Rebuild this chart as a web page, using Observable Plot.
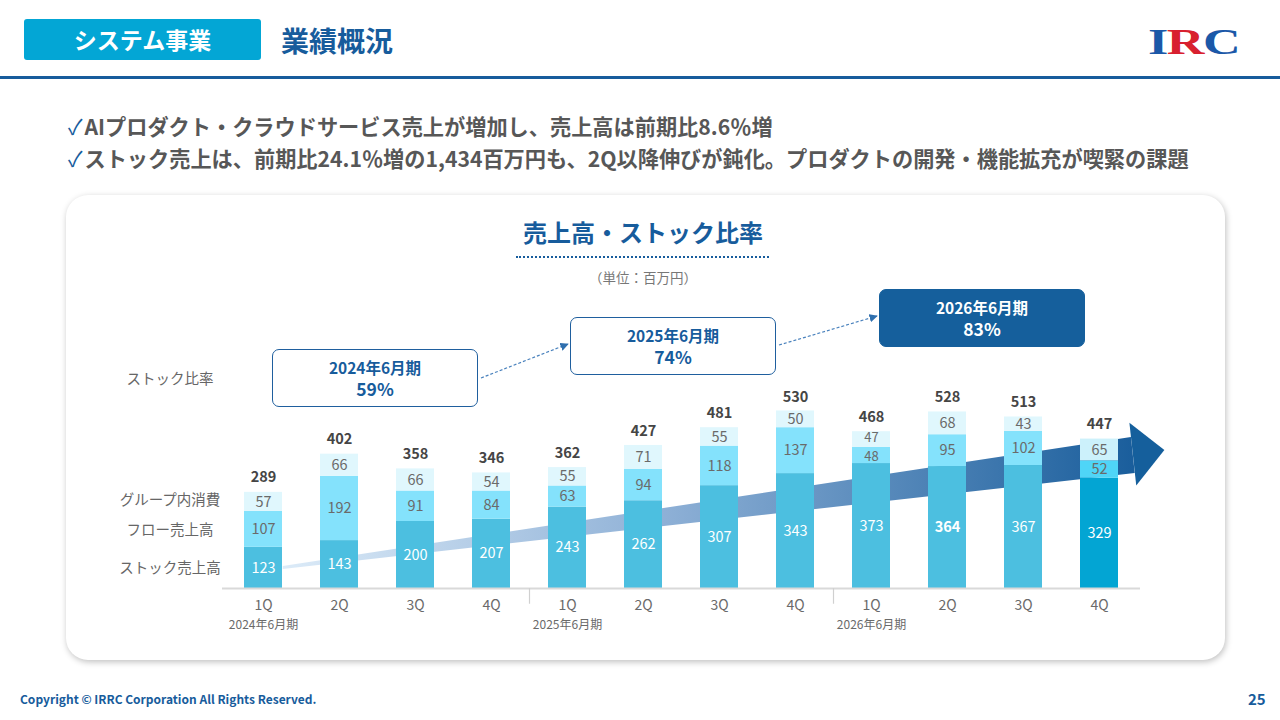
<!DOCTYPE html>
<html>
<head>
<meta charset="utf-8">
<script src="https://cdn.jsdelivr.net/npm/d3@7"></script>
<script src="https://cdn.jsdelivr.net/npm/@observablehq/plot@0.6"></script>
<style>
  body { margin: 0; width: 1280px; height: 720px; position: relative; background: #fff; overflow: hidden;
    font-family: "Noto Sans CJK JP", "Noto Sans", sans-serif; }
  .abs { position: absolute; }
  .tag { left: 24px; top: 19px; width: 237px; height: 41px; background: #03a6d5; border-radius: 3px;
    color: #fff; font-weight: bold; font-size: 23px; line-height: 41px; text-align: center; }
  .head { left: 281px; top: 20px; font-size: 28px; font-weight: bold; color: #175c9c; line-height: 40px; }
  .hline { left: 0; top: 76px; width: 1280px; height: 3px; background: #175c9c; }
  .logo { left: 1148px; top: 22px; font-family: "Liberation Serif", serif; font-weight: bold; font-size: 36px;
    letter-spacing: -1px; line-height: 40px; color: #1b58a8; transform: scaleX(1.45); transform-origin: left; }
  .bul { left: 68px; font-size: 21.2px; font-weight: bold; color: #575757; line-height: 28px; }
  .bul b { color: #175c9c; font-weight: normal; margin-right: 2px; }
  .card { left: 66px; top: 195px; width: 1159px; height: 465px; border-radius: 22px; background: #fff;
    box-shadow: 1px 2px 6px rgba(0,0,0,0.25); }
  .ctitle { left: 443px; width: 400px; top: 214px; text-align: center; font-size: 24px; font-weight: bold; color: #175c9c; }
  .dots { left: 516px; top: 256px; width: 253px; border-top: 2px dotted #175c9c; }
  .unit { left: 543px; width: 200px; top: 267px; text-align: center; font-size: 13.5px; color: #777; }
  .lab { width: 130px; left: 105px; text-align: center; font-size: 14.5px; color: #666; }
  .box { width: 206px; height: 58px; border: 1.5px solid #1f5f9e; border-radius: 7px; background: #fff;
    color: #175c9c; text-align: center; font-weight: bold; box-sizing: border-box; padding-top: 7px; }
  .box .p { font-size: 15.5px; line-height: 21px; }
  .box .v { font-size: 17.5px; line-height: 22px; }
  .box.dark { background: #155f9c; color: #fff; border-color: #155f9c; }
  .foot { left: 20px; top: 690px; font-size: 12px; font-weight: bold; color: #175c9c; }
  .pg { left: 1248px; top: 688px; font-size: 15px; font-weight: bold; color: #175c9c; }
  #chart { position: absolute; left: 0; top: 0; pointer-events: none; }
  #links { position: absolute; left: 0; top: 0; }
</style>
</head>
<body>
<div class="abs tag">システム事業</div>
<div class="abs head">業績概況</div>
<div class="abs hline"></div>
<div class="abs logo"><span>I</span><span style="color:#d8202f">R</span><span>C</span></div>
<div class="abs bul" style="top:112px"><b>✓</b>AIプロダクト・クラウドサービス売上が増加し、売上高は前期比8.6％増</div>
<div class="abs bul" style="top:144px"><b>✓</b>ストック売上は、前期比24.1％増の1,434百万円も、2Q以降伸びが鈍化。プロダクトの開発・機能拡充が喫緊の課題</div>

<div class="abs card"></div>
<div class="abs ctitle">売上高・ストック比率</div>
<div class="abs dots"></div>
<div class="abs unit">（単位：百万円）</div>

<div class="abs lab" style="top:367px">ストック比率</div>
<div class="abs lab" style="top:488px">グループ内消費</div>
<div class="abs lab" style="top:518px">フロー売上高</div>
<div class="abs lab" style="top:556px">ストック売上高</div>

<svg id="links" width="1280" height="720">
  <defs>
    <marker id="ah" viewBox="0 0 10 10" refX="9" refY="5" markerWidth="7" markerHeight="7" orient="auto">
      <path d="M0,0L10,5L0,10z" fill="#2f6fae"></path>
    </marker>
  </defs>
  <line x1="481" y1="378" x2="568" y2="344" stroke="#4a82bd" stroke-width="1.2" stroke-dasharray="3,2" marker-end="url(#ah)"></line>
  <line x1="779" y1="345" x2="877" y2="316" stroke="#4a82bd" stroke-width="1.2" stroke-dasharray="3,2" marker-end="url(#ah)"></line>
</svg>

<div id="boxes"></div>
<div id="chart"></div>

<div class="abs foot">Copyright © IRRC Corporation All Rights Reserved.</div>
<div class="abs pg">25</div>

<script>
// 四半期
const keys = ["2024-1Q","2024-2Q","2024-3Q","2024-4Q","2025-1Q","2025-2Q","2025-3Q","2025-4Q","2026-1Q","2026-2Q","2026-3Q","2026-4Q"]
const quarters = ["1Q","2Q","3Q","4Q","1Q","2Q","3Q","4Q","1Q","2Q","3Q","4Q"]
const stock = [123, 143, 200, 207, 243, 262, 307, 343, 373, 364, 367, 329]
const flow = [107, 192, 91, 84, 63, 94, 118, 137, 48, 95, 102, 52]
const group = [57, 66, 66, 54, 55, 71, 55, 50, 47, 68, 43, 65]
const totals = [289, 402, 358, 346, 362, 427, 481, 530, 468, 528, 513, 447]

// 期・ストック比率
const periodKeys = ["2024-1Q","2025-1Q","2026-1Q"]
const periods = ["2024年6月期","2025年6月期","2026年6月期"]
const ratios = ["59%","74%","83%"]

const seriesNames = ["stock","flow","group"]
const colors = {stock: "#4cbfe0", flow: "#84e2fc", group: "#e0f7fd"}
const lastColors = {stock: "#03a5d3", flow: "#4fd5f7", group: "#ccf1fb"}

let table = []
keys.forEach((k, i) => {
  [stock, flow, group].forEach((arr, s) => {
    table.push({key: k, q: quarters[i], series: seriesNames[s], value: arr[i], bold: k == "2026-2Q" && s == 0, last: i == keys.length - 1})
  })
})
let tot = keys.map((k, i) => ({key: k, total: totals[i]}))

// ストック比率の矢印（背景）
function trendArrow(index, scales) {
  const sx = scales.x, sy = scales.y
  const step = sx(keys[1]) - sx(keys[0])
  const c0 = sx(keys[0]) + step * 0.25
  const X = u => c0 + u * step
  const g = d3.create("svg:g")
  const grad = g.append("defs").append("linearGradient")
    .attr("id", "trend").attr("gradientUnits", "userSpaceOnUse")
    .attr("x1", X(0.26)).attr("x2", X(11.45)).attr("y1", 0).attr("y2", 0)
  grad.append("stop").attr("offset", 0).attr("stop-color", "#dcebf8")
  grad.append("stop").attr("offset", 0.45).attr("stop-color", "#8eb0d6")
  grad.append("stop").attr("offset", 1).attr("stop-color", "#1a5e9c")
  const shaft = [[0.26, 66], [11.42, 451], [11.47, 343], [0.26, 57]]
  g.append("path")
    .attr("d", "M" + shaft.map(p => [X(p[0]), sy(p[1])].join(",")).join("L") + "Z")
    .attr("fill", "url(#trend)")
  const head = [[11.4, 493], [11.86, 412], [11.49, 306]]
  g.append("path")
    .attr("d", "M" + head.map(p => [X(p[0]), sy(p[1])].join(",")).join("L") + "Z")
    .attr("fill", "#155f9c")
  return g.node()
}

const labFill = d => d.series == "stock" ? "#fff" : "#6a6a6a"
// ラベルは積み上げの中央に置く。1Q(2026)の細い2段は少し離す
const thin = d => d.key == "2026-1Q" && d.series != "stock"
const segLabel = (pick, opts) => Plot.text(table, Plot.stackY({x: "key", y: "value",
  text: d => pick(d) ? String(d.value) : "", fill: labFill, fontSize: 14.5, ...opts}))

let chart = Plot.plot({
  width: 1280,
  height: 720,
  marginLeft: 222,
  marginRight: 140,
  marginTop: 353.5,
  marginBottom: 132,
  style: {background: "transparent", fontFamily: "'Noto Sans CJK JP', sans-serif", overflow: "visible"},
  x: {domain: keys, paddingInner: 0.5, paddingOuter: 0.25, axis: null, label: null},
  y: {domain: [0, 700], axis: null, label: null},
  color: {type: "identity"},
  marks: [
    trendArrow,
    Plot.barY(table, {x: "key", y: "value", fill: d => (d.last ? lastColors : colors)[d.series]}),
    Plot.ruleY([0], {stroke: "#d9d9d9", strokeWidth: 2}),
    Plot.ruleX(["2024-4Q", "2025-4Q"], {x: d => d, y1: 0, y2: -47, dx: 38, stroke: "#d0d0d0", strokeWidth: 1.2}),
    segLabel(d => !thin(d) && !d.bold, {}),
    segLabel(d => d.bold, {fontWeight: "bold"}),
    segLabel(d => thin(d) && d.series == "flow", {fontSize: 13, dy: 1.5}),
    segLabel(d => thin(d) && d.series == "group", {fontSize: 13, dy: -1.5}),
    Plot.text(tot, {x: "key", y: "total", text: d => String(d.total), dy: -14, fontSize: 14.5, fontWeight: "bold", fill: "#454545"}),
    Plot.axisX({tickFormat: k => quarters[keys.indexOf(k)], tickSize: 0, tickPadding: 12, fontSize: 14, color: "#6a6a6a", label: null}),
    Plot.axisX(periodKeys, {tickFormat: k => periods[periodKeys.indexOf(k)], tickSize: 0, tickPadding: 32, fontSize: 12, color: "#6a6a6a", label: null})
  ]
})
d3.select("#chart").append(() => chart)

// ストック比率の吹き出し
const boxPos = [[272, 349], [570, 317], [879, 289]]
d3.select("#boxes").selectAll("div").data(periods).join("div")
  .attr("class", (d, i) => "abs box" + (i == 2 ? " dark" : ""))
  .style("left", (d, i) => boxPos[i][0] + "px")
  .style("top", (d, i) => boxPos[i][1] + "px")
  .html((d, i) => `<div class="p">${d}</div><div class="v">${ratios[i]}</div>`)
</script>
</body>
</html>
